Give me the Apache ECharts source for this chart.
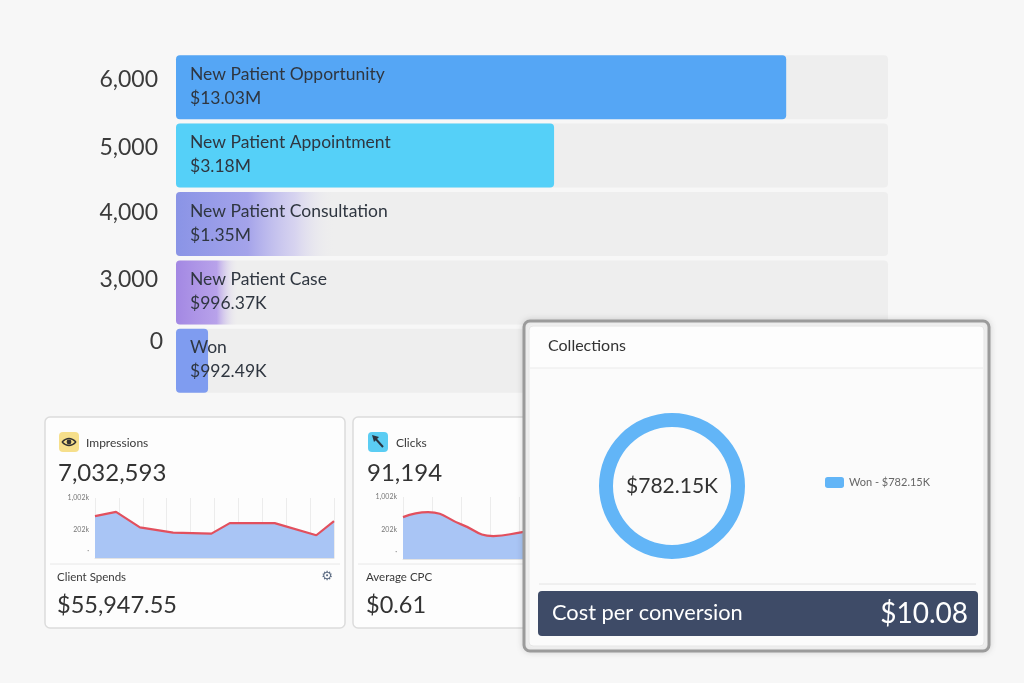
<!DOCTYPE html>
<html>
<head>
<meta charset="utf-8">
<script src="https://cdn.jsdelivr.net/npm/echarts@6/dist/echarts.min.js"></script>
<style>
html,body{margin:0;padding:0;background:#f7f7f7;}
#c{width:1024px;height:683px;}
</style>
</head>
<body>
<div id="c"></div>
<script>
// ---- Data ----
const stageTicks   = ['6,000', '5,000', '4,000', '3,000', '0'];
const stageNames   = ['New Patient Opportunity', 'New Patient Appointment', 'New Patient Consultation', 'New Patient Case', 'Won'];
const stageAmounts = ['$13.03M', '$3.18M', '$1.35M', '$996.37K', '$992.49K'];
const stageBarPct  = [85.7, 53.1, 22.3, 8.8, 4.5];

const impressionsTotal = '7,032,593';
const clientSpends     = '$55,947.55';
const impressionsTrend = [[0,699],[0.88,770],[1.88,512],[3.27,424],[4.87,407],[5.64,583],[7.52,583],[9.26,380],[10,616]];

const clicksTotal  = '91,194';
const averageCPC   = '$0.61';
const clicksTrend  = [[0,677],[0.86,758],[2,560],[3.1,371],[4.1,435],[5.5,520],[7,480],[8,600]];

const sparkTickValues = [117, 468, 1002];
const sparkTickLabels = ['·', '202k', '1,002k'];

const collectionsName  = 'Won';
const collectionsValue = 782.15;
const collectionsLabel = '$782.15K';
const costPerConversion = '$10.08';

// ---- Styles ----
const FONT = 'Lato, "Open Sans", sans-serif';
const grad = (stops) => new echarts.graphic.LinearGradient(0, 0, 1, 0, stops);
const barColors = [
  '#55a6f5',
  '#55d0f8',
  grad([{offset:0,color:'#8a94e6'},{offset:0.45,color:'#a4a3ea'},{offset:0.75,color:'rgba(205,200,240,0.7)'},{offset:1,color:'rgba(238,238,238,0)'}]),
  grad([{offset:0,color:'#a388e3'},{offset:0.65,color:'#b8a2ea'},{offset:1,color:'rgba(238,238,238,0)'}]),
  '#7f9cf0'
];
const yLabelLift = [8, 8, 11, 13, 19];

const chart = echarts.init(document.getElementById('c'), null, {renderer:'canvas'});

function sparkAxes(gridIndex, xmax) {
  return {
    x: {
      type:'value', gridIndex, min:0, max:xmax, interval:1,
      axisLine:{show:true, lineStyle:{color:'#e3e3e3'}}, axisTick:{show:false}, axisLabel:{show:false},
      splitLine:{show:true, lineStyle:{color:'#ececec', width:1}}
    },
    y: {
      type:'value', gridIndex, min:0, max:1002,
      axisLine:{show:false}, axisTick:{show:false}, splitLine:{show:false},
      axisLabel:{
        show:true, fontSize:7, color:'#777', fontFamily:FONT, margin:6,
        customValues: sparkTickValues,
        formatter: v => sparkTickLabels[sparkTickValues.indexOf(v)] || ''
      }
    }
  };
}
const s1 = sparkAxes(1, 10), s2 = sparkAxes(2, 8);

function sparkSeries(idx, data, smooth) {
  return {
    type:'line', xAxisIndex:idx, yAxisIndex:idx, data, smooth, symbol:'none', silent:true, z:3,
    lineStyle:{color:'#e2505e', width:2.2},
    areaStyle:{color:'#a9c5f5', opacity:1}
  };
}

const card = (x, y, w, h, z) => ({
  type:'rect', z, shape:{x, y, width:w, height:h, r:5},
  style:{fill:'#fdfdfd', stroke:'#dcdcdc', lineWidth:1.5}
});
const txt = (text, x, y, size, color, z, align, family) => ({
  type:'text', z, style:{text, x, y, font:`${size}px ${family || FONT}`, fill:color, textAlign:align || 'left', textVerticalAlign:'middle'}
});
const hline = (x1, x2, y, color, z) => ({type:'line', z, shape:{x1, y1:y, x2, y2:y}, style:{stroke:color, lineWidth:1}});

const graphics = [
  // Impressions card
  card(45, 417, 300, 211, 0),
  {type:'rect', z:1, shape:{x:59, y:432, width:20, height:20, r:4}, style:{fill:'#f6df8b'}},
  {type:'bezierCurve', z:1, shape:{x1:62, y1:442, x2:76, y2:442, cpx1:69, cpy1:435}, style:{stroke:'#333', lineWidth:1.4, fill:null}},
  {type:'bezierCurve', z:1, shape:{x1:62, y1:442, x2:76, y2:442, cpx1:69, cpy1:449}, style:{stroke:'#333', lineWidth:1.4, fill:null}},
  {type:'circle', z:1, shape:{cx:69, cy:442, r:2.4}, style:{fill:'#333'}},
  txt('Impressions', 86, 443, 12, '#3a3a3a', 1),
  txt(impressionsTotal, 58, 473, 24, '#333', 1),
  hline(50, 340, 564, '#e8e8e8', 1),
  txt('Client Spends', 57, 577, 11.5, '#3a3a3a', 1),
  txt('⚙', 327, 577, 13, '#5b6b82', 1, 'center', '"DejaVu Sans"'),
  txt(clientSpends, 57, 605, 23.5, '#333', 1),

  // Clicks card
  card(353, 417, 304, 211, 0),
  {type:'rect', z:1, shape:{x:368, y:432, width:20, height:20, r:4}, style:{fill:'#5bcdf3'}},
  {type:'line', z:1, shape:{x1:374, y1:437, x2:383, y2:447}, style:{stroke:'#2b3440', lineWidth:2}},
  {type:'polygon', z:1, shape:{points:[[372,435],[379,437],[374,442]]}, style:{fill:'#2b3440'}},
  txt('Clicks', 396, 443, 12, '#3a3a3a', 1),
  txt(clicksTotal, 367, 473, 24, '#333', 1),
  hline(358, 652, 564, '#e8e8e8', 1),
  txt('Average CPC', 366, 577, 11.5, '#3a3a3a', 1),
  txt(averageCPC, 366, 605, 23.5, '#333', 1),

  // Collections card (on top)
  {type:'rect', z:10, shape:{x:524, y:321, width:465, height:330, r:6},
   style:{fill:'#f4f4f4', stroke:'#9b9b9b', lineWidth:3, shadowBlur:6, shadowColor:'rgba(0,0,0,0.12)'}},
  {type:'rect', z:10, shape:{x:529, y:326, width:455, height:320, r:4}, style:{fill:'#fbfbfb', stroke:'#e6e6e6', lineWidth:1}},
  {type:'rect', z:10, shape:{x:530, y:327, width:453, height:41, r:[4,4,0,0]}, style:{fill:'#fdfdfd'}},
  hline(530, 983, 368, '#ebebeb', 11),
  txt('Collections', 548, 346, 16, '#333', 11),
  hline(539, 976, 584, '#e4e4e4', 11),
  {type:'rect', z:11, shape:{x:538, y:591, width:440, height:45, r:4}, style:{fill:'#3e4b67'}},
  txt('Cost per conversion', 552, 613, 21.8, '#ffffff', 12),
  txt(costPerConversion, 968, 614, 28, '#ffffff', 12, 'right')
];

const option = {
  backgroundColor:'#f7f7f7',
  animation:false,
  textStyle:{fontFamily:FONT},
  grid:[
    {left:176, right:136, top:53, height:342},
    {left:95, top:498, width:239, height:60, show:true, borderColor:'#ebebeb', borderWidth:1, backgroundColor:'transparent'},
    {left:403, top:497, width:233, height:62, show:true, borderColor:'#ebebeb', borderWidth:1, backgroundColor:'transparent'}
  ],
  xAxis:[
    {type:'value', gridIndex:0, min:0, max:100, show:false},
    s1.x, s2.x
  ],
  yAxis:[
    {type:'category', gridIndex:0, inverse:true,
     data: stageTicks.map((t, i) => ({
       value:t,
       textStyle:{
         verticalAlign:'bottom',
         lineHeight: yLabelLift[i] * 2,
         padding:[0, i === stageTicks.length - 1 ? 0 : 5, 0, 0]
       }
     })),
     axisLine:{show:false}, axisTick:{show:false},
     axisLabel:{fontSize:23, color:'#3b3b3b', margin:13, fontFamily:FONT}},
    s1.y, s2.y
  ],
  legend:{
    z:20, left:825, top:477, orient:'vertical', padding:0,
    itemWidth:19, itemHeight:11, itemGap:6, itemStyle:{borderRadius:2},
    textStyle:{fontSize:11, color:'#666', fontFamily:FONT},
    formatter: n => `${n} - ${collectionsLabel}`,
    selectedMode:false,
    data:[collectionsName]
  },
  graphic:{elements:graphics},
  series:[
    {
      type:'bar', xAxisIndex:0, yAxisIndex:0, barWidth:64, z:2, silent:true,
      showBackground:true, backgroundStyle:{color:'#eeeeee', borderRadius:4},
      data: stageBarPct.map((v, i) => ({value:v, itemStyle:{color:barColors[i]}})),
      itemStyle:{borderRadius:4},
      label:{
        show:true, position:'insideLeft', distance:14, offset:[0,-1],
        formatter: p => `{a|${stageNames[p.dataIndex]}}\n{b|${stageAmounts[p.dataIndex]}}`,
        rich:{
          a:{fontSize:17.5, lineHeight:24, color:'#2f3640', fontFamily:FONT},
          b:{fontSize:17.5, lineHeight:24, color:'#2f3640', fontFamily:FONT}
        }
      }
    },
    sparkSeries(1, impressionsTrend, false),
    sparkSeries(2, clicksTrend, true),
    {
      type:'pie', name:'Collections', z:20, silent:true,
      center:[672, 486], radius:[59, 73],
      color:['#62b5f7'],
      label:{show:true, position:'center', formatter:collectionsLabel, fontSize:21, color:'#333', fontFamily:FONT},
      labelLine:{show:false},
      data:[{name:collectionsName, value:collectionsValue}]
    }
  ]
};
chart.setOption(option);
</script>
</body>
</html>
